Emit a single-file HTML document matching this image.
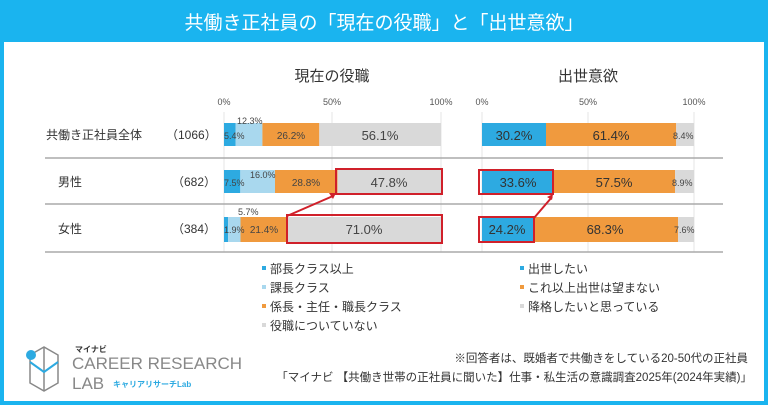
<!DOCTYPE html>
<html><head><meta charset="utf-8"><style>
html,body{margin:0;padding:0;width:768px;height:406px;overflow:hidden;background:#fff}
svg{display:block}
text{font-family:"Liberation Sans","Noto Sans CJK JP",sans-serif}
</style></head><body>
<svg width="768" height="406" viewBox="0 0 768 406">
<rect x="2" y="2" width="764" height="401" fill="#fff" stroke="#1ab4ef" stroke-width="4"/>
<rect x="2" y="2" width="764" height="40" fill="#1ab4ef"/>
<text x="384" y="29" font-size="19" fill="#fff" text-anchor="middle">共働き正社員の「現在の役職」と「出世意欲」</text>

<text x="332" y="81" font-size="15" fill="#333" text-anchor="middle">現在の役職</text>
<text x="588" y="81" font-size="15" fill="#333" text-anchor="middle">出世意欲</text>
<g font-size="9" fill="#555" text-anchor="middle">
<text x="224" y="105">0%</text><text x="332" y="105">50%</text><text x="441" y="105">100%</text>
<text x="482" y="105">0%</text><text x="588" y="105">50%</text><text x="694" y="105">100%</text>
</g>
<g stroke="#e6e6e6" stroke-width="1">
<line x1="224" y1="112" x2="224" y2="252"/><line x1="332" y1="112" x2="332" y2="252"/><line x1="441" y1="112" x2="441" y2="252"/>
<line x1="482" y1="112" x2="482" y2="252"/><line x1="588" y1="112" x2="588" y2="252"/><line x1="694" y1="112" x2="694" y2="252"/>
</g>
<g stroke="#aaa" stroke-width="1.5">
<line x1="45" y1="158" x2="723" y2="158"/><line x1="45" y1="204" x2="723" y2="204"/><line x1="45" y1="252" x2="723" y2="252"/>
</g>
<g font-size="12" fill="#333">
<text x="46" y="139">共働き正社員全体</text><text x="166" y="139">（1066）</text>
<text x="58" y="186">男性</text><text x="172" y="186">（682）</text>
<text x="58" y="233">女性</text><text x="172" y="233">（384）</text>
</g>
<!-- left bars -->
<rect x="224" y="123" width="11.7" height="23" fill="#2daae1"/>
<rect x="235.7" y="123" width="26.7" height="23" fill="#a9d8ee"/>
<rect x="262.4" y="123" width="56.9" height="23" fill="#f09a3e"/>
<rect x="319.3" y="123" width="121.7" height="23" fill="#d9d9d9"/>
<rect x="224" y="170" width="16.3" height="23" fill="#2daae1"/>
<rect x="240.3" y="170" width="34.7" height="23" fill="#a9d8ee"/>
<rect x="275" y="170" width="62.5" height="23" fill="#f09a3e"/>
<rect x="337.5" y="170" width="103.5" height="23" fill="#d9d9d9"/>
<rect x="224" y="217" width="4.1" height="25" fill="#2daae1"/>
<rect x="228.1" y="217" width="12.4" height="25" fill="#a9d8ee"/>
<rect x="240.5" y="217" width="46.5" height="25" fill="#f09a3e"/>
<rect x="287" y="217" width="154" height="25" fill="#d9d9d9"/>
<g font-size="9" fill="#444">
<text x="224" y="139">5.4%</text><text x="237" y="124">12.3%</text>
<text x="291" y="139" font-size="10" text-anchor="middle">26.2%</text>
<text x="380" y="140" font-size="13" text-anchor="middle">56.1%</text>
<text x="224" y="186">7.5%</text><text x="250" y="178">16.0%</text>
<text x="306" y="186" font-size="10" text-anchor="middle">28.8%</text>
<text x="389" y="187" font-size="13" text-anchor="middle">47.8%</text>
<text x="224" y="233">1.9%</text><text x="238" y="215">5.7%</text>
<text x="264" y="233" font-size="10" text-anchor="middle">21.4%</text>
<text x="364" y="234" font-size="13" text-anchor="middle">71.0%</text>
</g>
<!-- right bars -->
<rect x="482" y="123" width="64" height="23" fill="#2daae1"/>
<rect x="546" y="123" width="130.2" height="23" fill="#f09a3e"/>
<rect x="676.2" y="123" width="17.8" height="23" fill="#d9d9d9"/>
<rect x="482" y="170" width="71.2" height="23" fill="#2daae1"/>
<rect x="553.2" y="170" width="121.9" height="23" fill="#f09a3e"/>
<rect x="675.1" y="170" width="18.9" height="23" fill="#d9d9d9"/>
<rect x="482" y="217" width="51.3" height="25" fill="#2daae1"/>
<rect x="533.3" y="217" width="144.8" height="25" fill="#f09a3e"/>
<rect x="678.1" y="217" width="15.9" height="25" fill="#d9d9d9"/>
<g font-size="13" fill="#333" text-anchor="middle">
<text x="514" y="140">30.2%</text><text x="611" y="140">61.4%</text>
<text x="518" y="187">33.6%</text><text x="614" y="187">57.5%</text>
<text x="507" y="234">24.2%</text><text x="605" y="234">68.3%</text>
</g>
<g font-size="9" fill="#444">
<text x="673" y="139">8.4%</text><text x="672" y="186">8.9%</text><text x="674" y="233">7.6%</text>
</g>
<!-- red boxes -->
<g fill="none" stroke="#d0202a" stroke-width="2">
<rect x="336" y="169" width="106" height="25"/>
<rect x="287" y="215" width="155" height="28"/>
<rect x="479" y="170" width="74" height="24"/>
<rect x="479" y="217" width="55" height="25"/>
<line x1="287" y1="216" x2="333" y2="196"/>
<line x1="534" y1="218" x2="552" y2="197"/>
</g>
<polygon points="336,193 329,193 333,199" fill="#d0202a"/>
<polygon points="553,194 547,197 552,200" fill="#d0202a"/>
<!-- legend -->
<g font-size="12" fill="#333">
<rect x="262" y="266" width="4" height="4" fill="#2daae1"/><text x="270" y="273">部長クラス以上</text>
<rect x="262" y="285" width="4" height="4" fill="#a9d8ee"/><text x="270" y="292">課長クラス</text>
<rect x="262" y="304" width="4" height="4" fill="#f09a3e"/><text x="270" y="311">係長・主任・職長クラス</text>
<rect x="262" y="323" width="4" height="4" fill="#d9d9d9"/><text x="270" y="330">役職についていない</text>
<rect x="520" y="266" width="4" height="4" fill="#2daae1"/><text x="528" y="273">出世したい</text>
<rect x="520" y="285" width="4" height="4" fill="#f09a3e"/><text x="528" y="292">これ以上出世は望まない</text>
<rect x="520" y="304" width="4" height="4" fill="#d9d9d9"/><text x="528" y="311">降格したいと思っている</text>
</g>
<!-- logo -->
<g fill="none" stroke="#888" stroke-width="1.5">
<path d="M30 355 L44 347 L58 355 L58 383 L44 391 L30 383 Z"/>
<path d="M44 347 L44 391"/>
</g>
<path d="M30 362 L44 372 L58 362" fill="none" stroke="#2daae1" stroke-width="2"/>
<circle cx="31" cy="355" r="5" fill="#2daae1"/>
<text x="75" y="352" font-size="8" fill="#333" font-weight="bold">マイナビ</text>
<text x="72" y="369" font-size="17" fill="#888">CAREER RESEARCH</text>
<text x="72" y="389" font-size="17" fill="#888">LAB</text>
<text x="113" y="387" font-size="8" fill="#2daae1" font-weight="bold">キャリアリサーチLab</text>
<g font-size="11.5" fill="#333" text-anchor="end">
<text x="748" y="362">※回答者は、既婚者で共働きをしている20-50代の正社員</text>
<text x="752" y="381">「マイナビ 【共働き世帯の正社員に聞いた】仕事・私生活の意識調査2025年(2024年実績)」</text>
</g>
</svg>
</body></html>
